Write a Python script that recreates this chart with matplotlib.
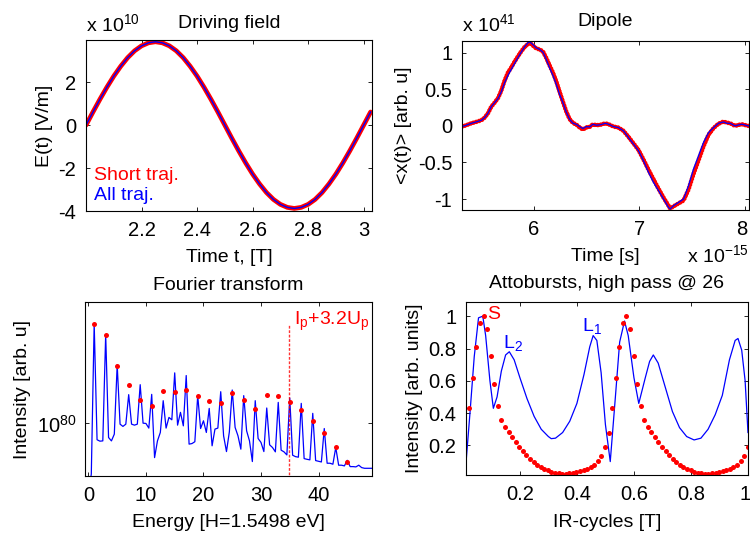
import numpy as np
import matplotlib
matplotlib.use('Agg')
import matplotlib.pyplot as plt
from matplotlib.ticker import FixedLocator, FixedFormatter, NullLocator
from matplotlib.transforms import ScaledTranslation

plt.rcParams['font.family'] = ['Liberation Sans', 'DejaVu Sans']
plt.rcParams['mathtext.fontset'] = 'custom'
plt.rcParams['mathtext.rm'] = 'Liberation Sans'
plt.rcParams['mathtext.it'] = 'Liberation Sans:italic'
plt.rcParams['axes.unicode_minus'] = False
FS = 14
TFS = 14.5

# ---------------- Driving field (units of 1e10 V/m) ----------------
field_t = np.linspace(2.0, 3.025, 42)
field_E = [0.0, 0.61, 1.20, 1.76, 2.28, 2.74, 3.14, 3.46, 3.69, 3.83, 3.88,
           3.83, 3.69, 3.46, 3.14, 2.74, 2.28, 1.76, 1.20, 0.61, 0.0,
           -0.61, -1.20, -1.76, -2.28, -2.74, -3.14, -3.46, -3.69, -3.83, -3.88,
           -3.83, -3.69, -3.46, -3.14, -2.74, -2.28, -1.76, -1.20, -0.61, 0.0, 0.61]

# ---------------- Dipole (time in 1e-15 s, dipole in 1e41) ----------------
dip_t = [5.318, 5.359, 5.406, 5.453, 5.501, 5.533, 5.564, 5.596, 5.627, 5.659, 5.69,
         5.722, 5.754, 5.785, 5.817, 5.848, 5.88, 5.912, 5.943, 5.959, 5.99, 6.022,
         6.054, 6.085, 6.117, 6.148, 6.18, 6.212, 6.243, 6.275, 6.306, 6.338, 6.37,
         6.401, 6.433, 6.465, 6.496, 6.528, 6.56, 6.591, 6.638, 6.676, 6.708, 6.755,
         6.802, 6.85, 6.897, 6.945, 6.992, 7.039, 7.087, 7.134, 7.182, 7.229, 7.276,
         7.292, 7.324, 7.371, 7.419, 7.466, 7.513, 7.561, 7.608, 7.656, 7.703, 7.75,
         7.798, 7.829, 7.861, 7.908, 7.94, 7.972, 8.035]
dip_all = [-0.01, 0.01, 0.036, 0.055, 0.077, 0.114, 0.173, 0.264, 0.318, 0.373, 0.464,
           0.591, 0.691, 0.773, 0.855, 0.933, 1.01, 1.082, 1.137, 1.15, 1.114, 1.068,
           1.046, 1.01, 0.91, 0.796, 0.691, 0.568, 0.432, 0.318, 0.191, 0.091, 0.036,
           0.023, -0.009, -0.036, -0.009, -0.014, 0.023, 0.009, 0.018, 0.036, 0.023, -0.009,
           -0.023, -0.068, -0.159, -0.25, -0.341, -0.477, -0.636, -0.773, -0.886, -1.0, -1.114,
           -1.137, -1.091, -1.046, -1.0, -0.818, -0.591, -0.409, -0.227, -0.091, -0.023, 0.036,
           0.055, 0.036, 0.036, 0.0, 0.014, 0.023, 0.0]
dip_short = [-0.01, 0.01, 0.036, 0.055, 0.077, 0.114, 0.173, 0.264, 0.318, 0.38, 0.48,
             0.62, 0.73, 0.80, 0.88, 0.95, 1.02, 1.08, 1.12, 1.14, 1.10, 1.06,
             1.046, 1.02, 0.93, 0.83, 0.73, 0.61, 0.47, 0.33, 0.20, 0.095, 0.04,
             0.02, -0.02, -0.05, -0.02, -0.014, 0.023, 0.009, 0.018, 0.036, 0.023, -0.009,
             -0.023, -0.068, -0.15, -0.24, -0.33, -0.46, -0.60, -0.73, -0.86, -0.98, -1.09,
             -1.13, -1.10, -1.06, -1.02, -0.87, -0.66, -0.47, -0.28, -0.12, -0.03, 0.03,
             0.06, 0.045, 0.036, 0.0, 0.014, 0.023, 0.0]

# ---------------- Fourier transform (log10 intensity) ----------------
harm_h = np.arange(0, 50, 0.5)
harm_log = [-0.50, -0.36, 0.710, -0.116, -0.126, -0.124, 0.631, -0.10, -0.124, -0.076,
            0.417, -0.005, -0.021, -0.005, 0.205, -0.005, -0.012, -0.005, 0.276, 0.002,
            0.0, -0.033, 0.207, -0.243, -0.124, -0.064, 0.162, -0.033, 0.043, 0.026,
            0.36, -0.012, 0.079, -0.017, 0.341, -0.147, -0.143, -0.130, 0.198, -0.036,
            0.019, -0.064, 0.107, -0.159, -0.040, -0.033, 0.226, -0.088, -0.20, -0.06,
            0.238, -0.028, -0.088, -0.183, 0.198, -0.052, -0.124, -0.271, 0.162, -0.107,
            -0.135, -0.200, 0.110, -0.152, -0.171, -0.202, 0.150, -0.190, -0.202, -0.224,
            0.181, -0.226, -0.236, -0.240, 0.143, -0.250, -0.255, -0.259, 0.072, -0.264,
            -0.269, -0.274, -0.036, -0.283, -0.283, -0.290, -0.171, -0.297, -0.297, -0.302,
            -0.262, -0.307, -0.307, -0.309, -0.297, -0.314, -0.319, -0.319, -0.319, -0.319]
odd_h = [1, 3, 5, 7, 9, 11, 13, 15, 17, 19, 21, 23, 25, 27, 29, 31, 33, 35, 37, 39, 41, 43, 45]
odd_log = [0.710, 0.631, 0.412, 0.276, 0.169, 0.122, 0.231, 0.224, 0.236, 0.196, 0.160, 0.145,
           0.217, 0.167, 0.103, 0.203, 0.193, 0.155, 0.096, 0.015, -0.069, -0.171, -0.271]
cutoff_h = 34.9
cutoff_log = 0.703
log_base = 80

# ---------------- Attobursts ----------------
atto_t = [0.011, 0.025, 0.04, 0.055, 0.07, 0.08, 0.095, 0.107, 0.12, 0.135, 0.15, 0.163,
          0.18, 0.2, 0.225, 0.25, 0.275, 0.3, 0.31, 0.325, 0.35, 0.375, 0.4, 0.425, 0.445,
          0.457, 0.47, 0.485, 0.5, 0.517, 0.535, 0.55, 0.567, 0.58, 0.6, 0.617, 0.64, 0.655,
          0.668, 0.685, 0.71, 0.735, 0.76, 0.785, 0.811, 0.835, 0.86, 0.885, 0.91, 0.935,
          0.955, 0.965, 0.978, 0.99, 1.0]
atto_all = [0.09, 0.40, 0.75, 0.99, 1.0, 0.88, 0.6, 0.43, 0.5, 0.66, 0.76, 0.78,
            0.73, 0.62, 0.49, 0.38, 0.3, 0.255, 0.242, 0.245, 0.28, 0.35, 0.46, 0.64, 0.81,
            0.88, 0.85, 0.65, 0.33, 0.1, 0.5, 0.84, 0.97, 0.88, 0.62, 0.46, 0.62, 0.72,
            0.76, 0.71, 0.56, 0.41, 0.31, 0.255, 0.234, 0.245, 0.3, 0.39, 0.51, 0.73,
            0.85, 0.862, 0.79, 0.6, 0.28]
atto_short_t = np.linspace(0.0226, 0.9992, 79)
atto_short = [0.43, 0.62, 0.81, 0.96, 1.0, 0.92, 0.755, 0.58, 0.445, 0.36,
              0.315, 0.283, 0.25, 0.22, 0.19, 0.165, 0.14, 0.118, 0.098, 0.081,
              0.067, 0.055, 0.045, 0.037, 0.031, 0.028, 0.026, 0.026, 0.027, 0.029,
              0.033, 0.039, 0.046, 0.055, 0.066, 0.082, 0.105, 0.135, 0.19, 0.28,
              0.43, 0.62, 0.81, 0.96, 1.0, 0.92, 0.755, 0.58, 0.445, 0.36,
              0.315, 0.283, 0.25, 0.22, 0.19, 0.165, 0.14, 0.118, 0.098, 0.081,
              0.067, 0.055, 0.045, 0.037, 0.031, 0.028, 0.026, 0.026, 0.027, 0.029,
              0.033, 0.039, 0.046, 0.055, 0.066, 0.082, 0.105, 0.135, 0.19]

RED = (1, 0, 0)
BLUE = (0, 0, 1)

fig = plt.figure(figsize=(7.5, 5.36), dpi=100)


def style(ax, xt, xl, yt, yl):
    ax.xaxis.set_major_locator(FixedLocator(xt))
    ax.xaxis.set_major_formatter(FixedFormatter(xl))
    ax.yaxis.set_major_locator(FixedLocator(yt))
    ax.yaxis.set_major_formatter(FixedFormatter(yl))
    ax.xaxis.set_minor_locator(NullLocator())
    ax.yaxis.set_minor_locator(NullLocator())
    ax.tick_params(which='both', direction='in', top=True, right=True, length=3,
                   width=0.6, labelsize=TFS)
    ax.tick_params(axis='x', pad=7)
    ax.tick_params(axis='y', pad=7)
    for s in ax.spines.values():
        s.set_linewidth(0.8)


XLP = 7

# ---- Panel 1 ----
ax1 = fig.add_axes([0.1147, 0.6063, 0.3813, 0.3190])
ax1.plot(field_t, field_E, color=RED, lw=3.4, solid_capstyle='round')
ax1.plot(field_t, field_E, color=BLUE, lw=1.0)
ax1.set_xlim(2.0, 3.03)
ax1.set_ylim(-4.0, 3.96)
style(ax1, [2.2, 2.4, 2.6, 2.8, 3.0], ['2.2', '2.4', '2.6', '2.8', '3'],
      [-4, -2, 0, 2], ['-4', '-2', '0', '2'])
ax1.set_title('Driving field', fontsize=FS, pad=9)
ax1.set_xlabel('Time t, [T]', fontsize=FS, labelpad=XLP)
ax1.set_ylabel('E(t) [V/m]', fontsize=FS, labelpad=4)
ax1.text(0.0, 1.055, r'x 10$^{10}$', transform=ax1.transAxes, fontsize=FS,
         ha='left', va='baseline')
ax1.text(2.028, -2.56, 'Short traj.', color=RED, fontsize=FS, va='baseline')
ax1.text(2.028, -3.49, 'All traj.', color=BLUE, fontsize=FS, va='baseline')

# ---- Panel 2 ----
ax2 = fig.add_axes([0.616, 0.6082, 0.382, 0.3144])
ax2.plot(dip_t, dip_short, color=RED, lw=3.3, linestyle=(0, (0.01, 0.65)),
         dash_capstyle='round')
ax2.plot(dip_t, dip_all, color=BLUE, lw=0.9)
ax2.set_xlim(5.318, 8.035)
ax2.set_ylim(-1.15, 1.155)
style(ax2, [6, 7, 8], ['6', '7', '8'], [-1, -0.5, 0, 0.5, 1],
      ['-1', '-0.5', '0', '0.5', '1'])
ax2.set_title('Dipole', fontsize=FS, pad=11)
ax2.set_xlabel('Time [s]', fontsize=FS, labelpad=XLP)
ax2.set_ylabel('<x(t)> [arb. u]', fontsize=FS, labelpad=4)
ax2.text(0.0, 1.061, r'x 10$^{41}$', transform=ax2.transAxes, fontsize=FS,
         ha='left', va='baseline')
ax2.text(1.0, -0.20, r'x 10$^{-15}$', transform=ax2.transAxes, fontsize=FS,
         ha='right', va='top')

# ---- Panel 3 ----
ax3 = fig.add_axes([0.1133, 0.1119, 0.3827, 0.3246])
ax3.set_yscale('log')
ax3.plot(harm_h, 10.0 ** (log_base + np.array(harm_log)), color=BLUE, lw=0.9)
ax3.plot(odd_h, 10.0 ** (log_base + np.array(odd_log)), 'o', color=RED, ms=3.6, mew=0)
ax3.plot([cutoff_h, cutoff_h], [10.0 ** (log_base - 1), 10.0 ** (log_base + cutoff_log)],
         color=RED, lw=1.0, linestyle=(0, (2, 1.2)), alpha=0.8)
ax3.set_xlim(-0.6, 49.3)
ax3.set_ylim(10.0 ** (log_base - 0.374), 10.0 ** (log_base + 0.864))
style(ax3, [0, 10, 20, 30, 40], ['0', '10', '20', '30', '40'],
      [10.0 ** log_base], [r'10$^{80}$'])
ax3.tick_params(axis='y', pad=6)
ax3.set_title('Fourier transform', fontsize=FS, pad=9)
ax3.set_xlabel('Energy [H=1.5498 eV]', fontsize=FS, labelpad=XLP)
ax3.set_ylabel('Intensity [arb. u]', fontsize=FS, labelpad=4)
ax3.text(35.8, 10.0 ** (log_base + 0.70), r'I$_{\mathrm{p}}$+3.2U$_{\mathrm{p}}$',
         color=RED, fontsize=FS, ha='left', va='baseline', clip_on=False)

# ---- Panel 4 ----
ax4 = fig.add_axes([0.6213, 0.1129, 0.376, 0.3237])
ax4.plot(atto_t, atto_all, color=BLUE, lw=0.9)
ax4.plot(atto_short_t, atto_short, 'o', color=RED, ms=3.6, mew=0)
ax4.set_xlim(0.011, 1.0)
ax4.set_ylim(0.014, 1.088)
style(ax4, [0.2, 0.4, 0.6, 0.8, 1.0], ['0.2', '0.4', '0.6', '0.8', '1'],
      [0.2, 0.4, 0.6, 0.8, 1.0], ['0.2', '0.4', '0.6', '0.8', '1'])
ax4.set_title('Attobursts, high pass @ 26', fontsize=FS, pad=10)
ax4.set_xlabel('IR-cycles [T]', fontsize=FS, labelpad=XLP)
ax4.set_ylabel('Intensity [arb. units]', fontsize=FS, labelpad=4)
ax4.text(0.085, 0.98, 'S', color=RED, fontsize=FS, va='baseline')
ax4.text(0.142, 0.804, r'L$_{\mathrm{2}}$', color=BLUE, fontsize=FS, va='baseline')
ax4.text(0.418, 0.908, r'L$_{\mathrm{1}}$', color=BLUE, fontsize=FS, va='baseline')

# keep the last x tick labels ("1" and "8") inside the figure edge
fig.canvas.draw()
for ax in (ax2, ax4):
    last = ax.xaxis.get_major_ticks()[-1].label1
    last.set_transform(last.get_transform() + ScaledTranslation(-3 / 100, 0, fig.dpi_scale_trans))

fig.savefig('out.png', dpi=100)
